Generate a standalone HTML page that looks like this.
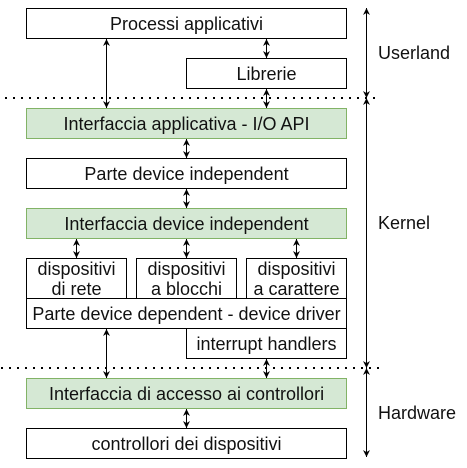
<!DOCTYPE html>
<html><head><style>
html,body{margin:0;padding:0;background:#fff;}
svg{display:block;}
text{font-family:"Liberation Sans",Arial,sans-serif;font-size:18px;fill:#111;}
</style></head><body>
<svg width="467" height="468" viewBox="0 0 467 468" xmlns="http://www.w3.org/2000/svg">
<defs>
<marker id="a" viewBox="0 0 10 10" refX="10" refY="5" markerWidth="7" markerHeight="7" markerUnits="userSpaceOnUse" orient="auto-start-reverse">
<path d="M0,0 L10,5 L0,10 L3,5 Z" fill="#000"/>
</marker>
</defs>
<g stroke="#000" stroke-width="1" fill="#fff">
<rect x="26.5" y="8.5" width="320" height="30"/>
<rect x="186.5" y="58.5" width="160" height="30"/>
<rect x="26.5" y="108.5" width="320" height="30" fill="#d5e8d4" stroke="#82b366"/>
<rect x="26.5" y="158.5" width="320" height="30"/>
<rect x="26.5" y="208.5" width="320" height="30" fill="#d5e8d4" stroke="#82b366"/>
<rect x="26.5" y="258.5" width="100" height="40"/>
<rect x="136.5" y="258.5" width="100" height="40"/>
<rect x="246.5" y="258.5" width="100" height="40"/>
<rect x="26.5" y="298.5" width="320" height="30"/>
<rect x="186.5" y="328.5" width="160" height="30"/>
<rect x="26.5" y="378.5" width="320" height="30" fill="#d5e8d4" stroke="#82b366"/>
<rect x="26.5" y="428.5" width="320" height="30"/>
</g>
<g stroke="#000" stroke-width="2" stroke-dasharray="2 6" fill="none">
<line x1="5" y1="98" x2="380" y2="98"/>
<line x1="1" y1="368" x2="380" y2="368"/>
</g>
<g stroke="#000" stroke-width="1" fill="none" marker-start="url(#a)" marker-end="url(#a)">
<line x1="106.5" y1="39" x2="106.5" y2="108"/>
<line x1="266.5" y1="39" x2="266.5" y2="58"/>
<line x1="266.5" y1="89" x2="266.5" y2="108"/>
<line x1="186.5" y1="139" x2="186.5" y2="158"/>
<line x1="186.5" y1="189" x2="186.5" y2="208"/>
<line x1="76.5" y1="239" x2="76.5" y2="258"/>
<line x1="186.5" y1="239" x2="186.5" y2="258"/>
<line x1="296.5" y1="239" x2="296.5" y2="258"/>
<line x1="106.5" y1="329" x2="106.5" y2="378"/>
<line x1="266.5" y1="359" x2="266.5" y2="378"/>
<line x1="186.5" y1="409" x2="186.5" y2="428"/>
<line x1="366.5" y1="8" x2="366.5" y2="98"/>
<line x1="366.5" y1="98" x2="366.5" y2="368"/>
<line x1="366.5" y1="368" x2="366.5" y2="457"/>
</g>
<g text-anchor="middle">
<text x="186.5" y="30">Processi applicativi</text>
<text x="266.5" y="80">Librerie</text>
<text x="186.5" y="130">Interfaccia applicativa - I/O API</text>
<text x="186.5" y="180">Parte device independent</text>
<text x="186.5" y="230">Interfaccia device independent</text>
<text x="76.5" y="275">dispositivi</text>
<text x="76.5" y="295">di rete</text>
<text x="186.5" y="275">dispositivi</text>
<text x="186.5" y="295">a blocchi</text>
<text x="296.5" y="275">dispositivi</text>
<text x="296.5" y="295">a carattere</text>
<text x="186.5" y="320">Parte device dependent - device driver</text>
<text x="266.5" y="350">interrupt handlers</text>
<text x="186.5" y="400">Interfaccia di accesso ai controllori</text>
<text x="186.5" y="450">controllori dei dispositivi</text>
</g>
<text x="378" y="59">Userland</text>
<text x="378" y="229">Kernel</text>
<text x="378" y="419">Hardware</text>
</svg>
</body></html>
